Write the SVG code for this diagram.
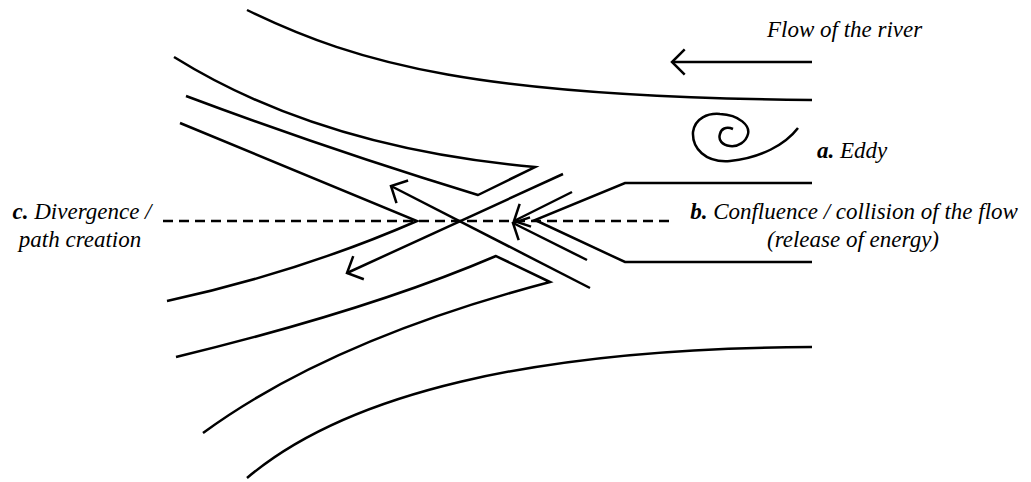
<svg xmlns="http://www.w3.org/2000/svg" width="1031" height="482" viewBox="0 0 1031 482">
  <style>
    .ln { fill: none; stroke: #000; stroke-width: 2.5; stroke-linejoin: miter; stroke-linecap: butt; }
    .dash { fill: none; stroke: #000; stroke-width: 2.5; stroke-dasharray: 10 6; }
    .lbl { font-family: "Liberation Serif", "Times New Roman", serif; font-size: 23px; font-style: italic; fill: #000; }
    .key { font-weight: bold; }
  </style>
  <defs>
    <marker id="head" viewBox="-16 -16 20 32" refX="0" refY="0" markerWidth="20" markerHeight="32" markerUnits="userSpaceOnUse" orient="auto">
      <path d="M-12.7,-12.7 L0,0 L-12.7,12.7" fill="none" stroke="#000" stroke-width="2.5"/>
    </marker>
  </defs>
  <rect width="1031" height="482" fill="#fff"/>

  <!-- river banks -->
  <g id="bank-top">
    <path class="ln" d="M247,10 C360,65 480,97 812,100"/>
  </g>
  <g id="bank-bottom">
    <path class="ln" d="M247,478 C345,395 530,348 812,347"/>
  </g>

  <!-- incoming channel from the right -->
  <g id="channel-right">
    <polyline class="ln" points="812,183 625,183 535,220 625,262 812,262"/>
  </g>

  <!-- upper diverging channel -->
  <g id="channel-upper">
    <path class="ln" d="M174,57 Q320,148 535,167 L478,195 Q330,150 186,96"/>
  </g>

  <!-- middle diverging channel -->
  <g id="channel-middle">
    <path class="ln" d="M180,123 L417,221 Q300,272 167,301"/>
  </g>

  <!-- lower diverging channel -->
  <g id="channel-lower">
    <path class="ln" d="M176,357 Q370,310 496,256 L550,282 Q330,340 203,433"/>
  </g>

  <!-- eddy -->
  <g id="eddy">
    <path class="ln" d="M798,128 C785,145 760,158 730,161 C705,163 692,148 693,132 C695,118 708,113 720,114 C740,115 750,126 748,134 C746,142 738,147 730,146 C722,145 718,140 720,134 C721,129 726,126 733,129"/>
  </g>

  <!-- flow arrows -->
  <g id="connectors">
    <line class="dash" x1="163" y1="221" x2="674" y2="221"/>
    <line class="ln" x1="812" y1="62" x2="672" y2="62" marker-end="url(#head)"/>
    <line class="ln" x1="572" y1="192" x2="514" y2="221" marker-end="url(#head)"/>
    <line class="ln" x1="587" y1="260" x2="513" y2="223" marker-end="url(#head)"/>
    <line class="ln" x1="590" y1="288" x2="391" y2="186" marker-end="url(#head)"/>
    <line class="ln" x1="563" y1="174" x2="347" y2="273" marker-end="url(#head)"/>
  </g>

  <!-- labels -->
  <g id="label-flow">
    <text class="lbl" x="767" y="37">Flow of the river</text>
  </g>
  <g id="label-a">
    <text class="lbl" x="817" y="158"><tspan class="key">a.</tspan> Eddy</text>
  </g>
  <g id="label-b">
    <text class="lbl" x="854" y="219" text-anchor="middle"><tspan class="key">b.</tspan> Confluence / collision of the flow</text>
    <text class="lbl" x="853" y="247" text-anchor="middle">(release of energy)</text>
  </g>
  <g id="label-c">
    <text class="lbl" x="82" y="219" text-anchor="middle"><tspan class="key">c.</tspan> Divergence /</text>
    <text class="lbl" x="80" y="247" text-anchor="middle">path creation</text>
  </g>
</svg>
